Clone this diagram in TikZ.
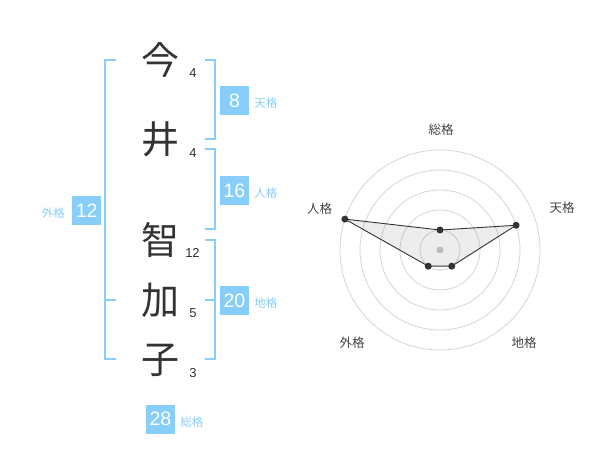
\documentclass[tikz,border=0pt]{standalone}
\usepackage{fontspec}
\setmainfont{Liberation Sans}
\newfontfamily\jpfont{Noto Sans CJK JP}
\usetikzlibrary{calc,
                positioning}
\definecolor{skyblue}{RGB}{135,206,250}
\definecolor{ink}{RGB}{51,51,51}
\definecolor{labelgray}{RGB}{68,68,68}
\definecolor{ringgray}{RGB}{208,208,208}
\definecolor{hubgray}{RGB}{204,204,204}
\tikzset{
        kanji/.style={font=\jpfont\fontsize{38}{38}\selectfont, text=ink, inner sep=0pt},
        strokes/.style={font=\fontsize{13}{13}\selectfont, text=ink, inner sep=0pt},
        score/.style={fill=skyblue, text=white, minimum size=29pt, inner sep=0pt,
                      font=\fontsize{19.5}{19.5}\selectfont},
        kaku/.style={font=\jpfont\fontsize{11.5}{11.5}\selectfont, text=skyblue, inner sep=0pt},
        bracket/.style={draw=skyblue, line width=2pt},
        ring/.style={draw=ringgray, line width=0.7pt},
        axislabel/.style={font=\jpfont\fontsize{12.5}{12.5}\selectfont, text=labelgray, inner sep=0pt},
        poly/.style={draw=ink, line width=0.9pt, fill=black, fill opacity=0.07},
        dot/.style={circle, fill=ink, inner sep=0pt, minimum size=7pt},
 }

\begin{document}
\begin{tikzpicture}[x=1pt, y=-1pt]
    \useasboundingbox (0,0) rectangle (600,470);

    % name and strokes
    \node[kanji] (k1) at (160,60) {今};
    \node[kanji] (k2) at (160,139) {井};
    \node[kanji] (k3) at (160,240) {智};
    \node[kanji] (k4) at (160,300) {加};
    \node[kanji] (k5) at (160,360) {子};
    \node[strokes] (n1) at (193,72.7) {4};
    \node[strokes] (n2) at (193,153.3) {4};
    \node[strokes] (n3) at (192.5,252.7) {12};
    \node[strokes] (n4) at (193,313.3) {5};
    \node[strokes] (n5) at (193,373.3) {3};

    % brackets
    \coordinate (gt) at (115.7,60);   \coordinate (gt1) at (105,60);
    \coordinate (gb) at (115.7,359);  \coordinate (gb1) at (105,359);
    \coordinate (gm) at (115.7,300);  \coordinate (gm1) at (105,300);
    \draw[bracket] (gt) -- (gt1) -- (gb1) -- (gb);
    \draw[bracket] (gm1) -- (gm);

    \coordinate (tt) at (205,60);     \coordinate (tt1) at (215,60);
    \coordinate (tb) at (205,139.3);  \coordinate (tb1) at (215,139.3);
    \draw[bracket] (tt) -- (tt1) -- (tb1) -- (tb);

    \coordinate (jt) at (205,149.3);  \coordinate (jt1) at (215,149.3);
    \coordinate (jb) at (205,229.3);  \coordinate (jb1) at (215,229.3);
    \draw[bracket] (jt) -- (jt1) -- (jb1) -- (jb);

    \coordinate (ct) at (205,240);    \coordinate (ct1) at (215,240);
    \coordinate (cb) at (205,359.3);  \coordinate (cb1) at (215,359.3);
    \coordinate (cm) at (205,300);    \coordinate (cm1) at (215,300);
    \draw[bracket] (ct) -- (ct1) -- (cb1) -- (cb);
    \draw[bracket] (cm) -- (cm1);

    % scores
    \node[score] (ten) at (234.5,100.5) {8};
    \node[kaku, right=5pt of ten, yshift=-3pt] (tenl) {天格};
    \node[score] (jin) at (234.5,190.5) {16};
    \node[kaku, right=5pt of jin, yshift=-3pt] (jinl) {人格};
    \node[score] (chi) at (234.5,300.5) {20};
    \node[kaku, right=5pt of chi, yshift=-3pt] (chil) {地格};
    \node[score] (gai) at (86.7,210.5) {12};
    \node[kaku, left=7pt of gai, yshift=-3pt] (gail) {外格};
    \node[score] (sou) at (160.5,419) {28};
    \node[kaku, right=5pt of sou, yshift=-3pt] (soul) {総格};

    % radar
    \coordinate (c) at (440,250);
    \draw[ring] (c) circle[radius=20pt];
    \draw[ring] (c) circle[radius=40pt];
    \draw[ring] (c) circle[radius=60pt];
    \draw[ring] (c) circle[radius=80pt];
    \draw[ring] (c) circle[radius=100pt];
    \fill[hubgray] (c) circle[radius=3.5pt];

    \coordinate (psou) at ($(c)+(90:20pt)$);
    \coordinate (pten) at ($(c)+(18:80pt)$);
    \coordinate (pchi) at ($(c)+(-54:20pt)$);
    \coordinate (pgai) at ($(c)+(-126:20pt)$);
    \coordinate (pjin) at ($(c)+(162:100pt)$);
    \draw[poly] (psou) -- (pten) -- (pchi) -- (pgai) -- (pjin) -- cycle;
    \node[dot] (dsou) at (psou) {};
    \node[dot] (dten) at (pten) {};
    \node[dot] (dchi) at (pchi) {};
    \node[dot] (dgai) at (pgai) {};
    \node[dot] (djin) at (pjin) {};

    \node[axislabel] (lsou) at (441,130) {総格};
    \node[axislabel] (lten) at (562,208) {天格};
    \node[axislabel] (ljin) at (319.5,208.3) {人格};
    \node[axislabel] (lgai) at (352,342.7) {外格};
    \node[axislabel] (lchi) at (524,342.7) {地格};
\end{tikzpicture}
\end{document}
